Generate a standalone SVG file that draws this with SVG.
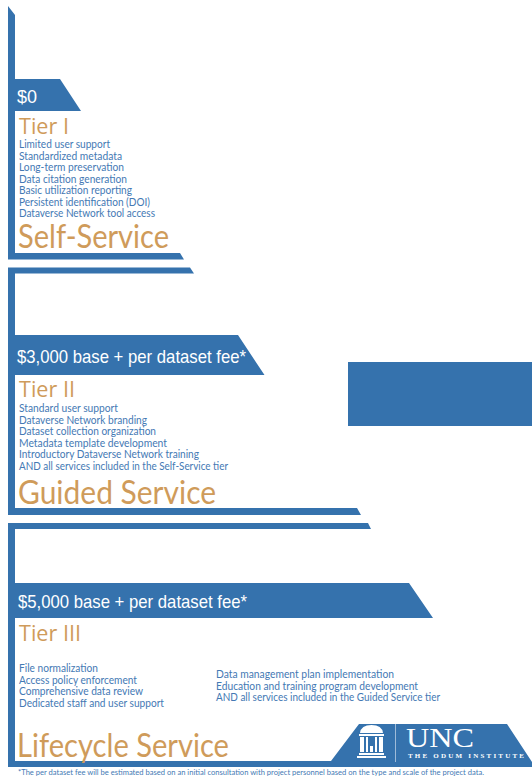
<svg xmlns="http://www.w3.org/2000/svg" width="532" height="778" viewBox="0 0 532 778">
<style>
.b{fill:#3572ad}
.price{font-family:"Liberation Sans",Arial,sans-serif;fill:#fff;font-size:19px}
.tier{font-family:"Open Sans",Lato,sans-serif;fill:#cf9b5a;font-size:22px}
.item{font-family:Lato,"Open Sans",sans-serif;fill:#4479b4;font-size:10.500px}
.name{font-family:Lato,"Open Sans",sans-serif;fill:#cf9b5a;font-size:33px}
</style>
<g id="tier1">
<path class="b" d="M8 6L15 15V79H60L81 111H15V253H180L184 259.500H8Z"/>
<text class="price" x="17" y="103" textLength="20" lengthAdjust="spacingAndGlyphs">$0</text>
<text class="tier" x="19" y="134" textLength="50" lengthAdjust="spacingAndGlyphs">Tier I</text>
<g class="item">
<text x="19" y="148" textLength="91" lengthAdjust="spacingAndGlyphs">Limited user support</text>
<text x="19" y="159.500" textLength="103" lengthAdjust="spacingAndGlyphs">Standardized metadata</text>
<text x="19" y="171" textLength="105" lengthAdjust="spacingAndGlyphs">Long-term preservation</text>
<text x="19" y="182.500" textLength="108" lengthAdjust="spacingAndGlyphs">Data citation generation</text>
<text x="19" y="194" textLength="113" lengthAdjust="spacingAndGlyphs">Basic utilization reporting</text>
<text x="19" y="205.500" textLength="131" lengthAdjust="spacingAndGlyphs">Persistent identification (DOI)</text>
<text x="19" y="217" textLength="136" lengthAdjust="spacingAndGlyphs">Dataverse Network tool access</text>
</g>
<text class="name" x="18" y="248" textLength="151" lengthAdjust="spacingAndGlyphs">Self-Service</text>
</g>
<g id="tier2">
<path class="b" d="M8 267.500H190L194 273.500H15V335H238L264.500 375H15V508H357L361 515H8Z"/>
<text class="price" x="17" y="363" textLength="229" lengthAdjust="spacingAndGlyphs">$3,000 base + per dataset fee*</text>
<text class="tier" x="19" y="397" textLength="56" lengthAdjust="spacingAndGlyphs">Tier II</text>
<g class="item">
<text x="19" y="412" textLength="99" lengthAdjust="spacingAndGlyphs">Standard user support</text>
<text x="19" y="423.500" textLength="128" lengthAdjust="spacingAndGlyphs">Dataverse Network branding</text>
<text x="19" y="435" textLength="137" lengthAdjust="spacingAndGlyphs">Dataset collection organization</text>
<text x="19" y="446.500" textLength="148" lengthAdjust="spacingAndGlyphs">Metadata template development</text>
<text x="19" y="458" textLength="180" lengthAdjust="spacingAndGlyphs">Introductory Dataverse Network training</text>
<text x="19" y="469.500" textLength="209" lengthAdjust="spacingAndGlyphs">AND all services included in the Self-Service tier</text>
</g>
<text class="name" x="18" y="504" textLength="198" lengthAdjust="spacingAndGlyphs">Guided Service</text>
</g>
<rect id="blue-block" class="b" x="348" y="362" width="184" height="64"/>
<g id="tier3">
<path class="b" d="M8 523H368L371 529H15V583H409L433 618H15V761H331L359 724H507L532 762V767H8Z"/>
<text class="price" x="18" y="608" textLength="229" lengthAdjust="spacingAndGlyphs">$5,000 base + per dataset fee*</text>
<text class="tier" x="19" y="641" textLength="62" lengthAdjust="spacingAndGlyphs">Tier III</text>
<g class="item">
<text x="19" y="672" textLength="79" lengthAdjust="spacingAndGlyphs">File normalization</text>
<text x="19" y="683.500" textLength="118" lengthAdjust="spacingAndGlyphs">Access policy enforcement</text>
<text x="19" y="695" textLength="124" lengthAdjust="spacingAndGlyphs">Comprehensive data review</text>
<text x="19" y="706.500" textLength="145" lengthAdjust="spacingAndGlyphs">Dedicated staff and user support</text>
<text x="216" y="678" textLength="178" lengthAdjust="spacingAndGlyphs">Data management plan implementation</text>
<text x="216" y="689.500" textLength="202" lengthAdjust="spacingAndGlyphs">Education and training program development</text>
<text x="216" y="701" textLength="224" lengthAdjust="spacingAndGlyphs">AND all services included in the Guided Service tier</text>
</g>
<text class="name" x="17" y="757" textLength="212" lengthAdjust="spacingAndGlyphs">Lifecycle Service</text>
</g>
<g id="logo">
<path d="M360 733Q361 725 371.500 725Q382 725 383 733ZM359 734H384V736H359ZM360 737H364V752H360ZM366 737H368V752H366ZM375 737H377V752H375ZM379 737H383V752H379ZM370 746H373V752H370ZM359 753H384V755H359ZM357 756H386V758H357Z" fill="#fff"/>
<rect x="395" y="724" width="1" height="38" fill="#9fbbd8"/>
<text x="406" y="747" font-family="Liberation Serif,serif" font-size="28" fill="#fff" textLength="68" lengthAdjust="spacingAndGlyphs">UNC</text>
<text x="408" y="758" font-family="Liberation Serif,serif" font-size="7" fill="#fff" font-weight="700" textLength="116" lengthAdjust="spacing">THE ODUM INSTITUTE</text>
</g>
<text id="footnote" x="18" y="774.500" font-family="Lato,Open Sans,sans-serif" font-size="8" fill="#4479b4" textLength="466" lengthAdjust="spacingAndGlyphs">*The per dataset fee will be estimated based on an initial consultation with project personnel based on the type and scale of the project data.</text>
</svg>
